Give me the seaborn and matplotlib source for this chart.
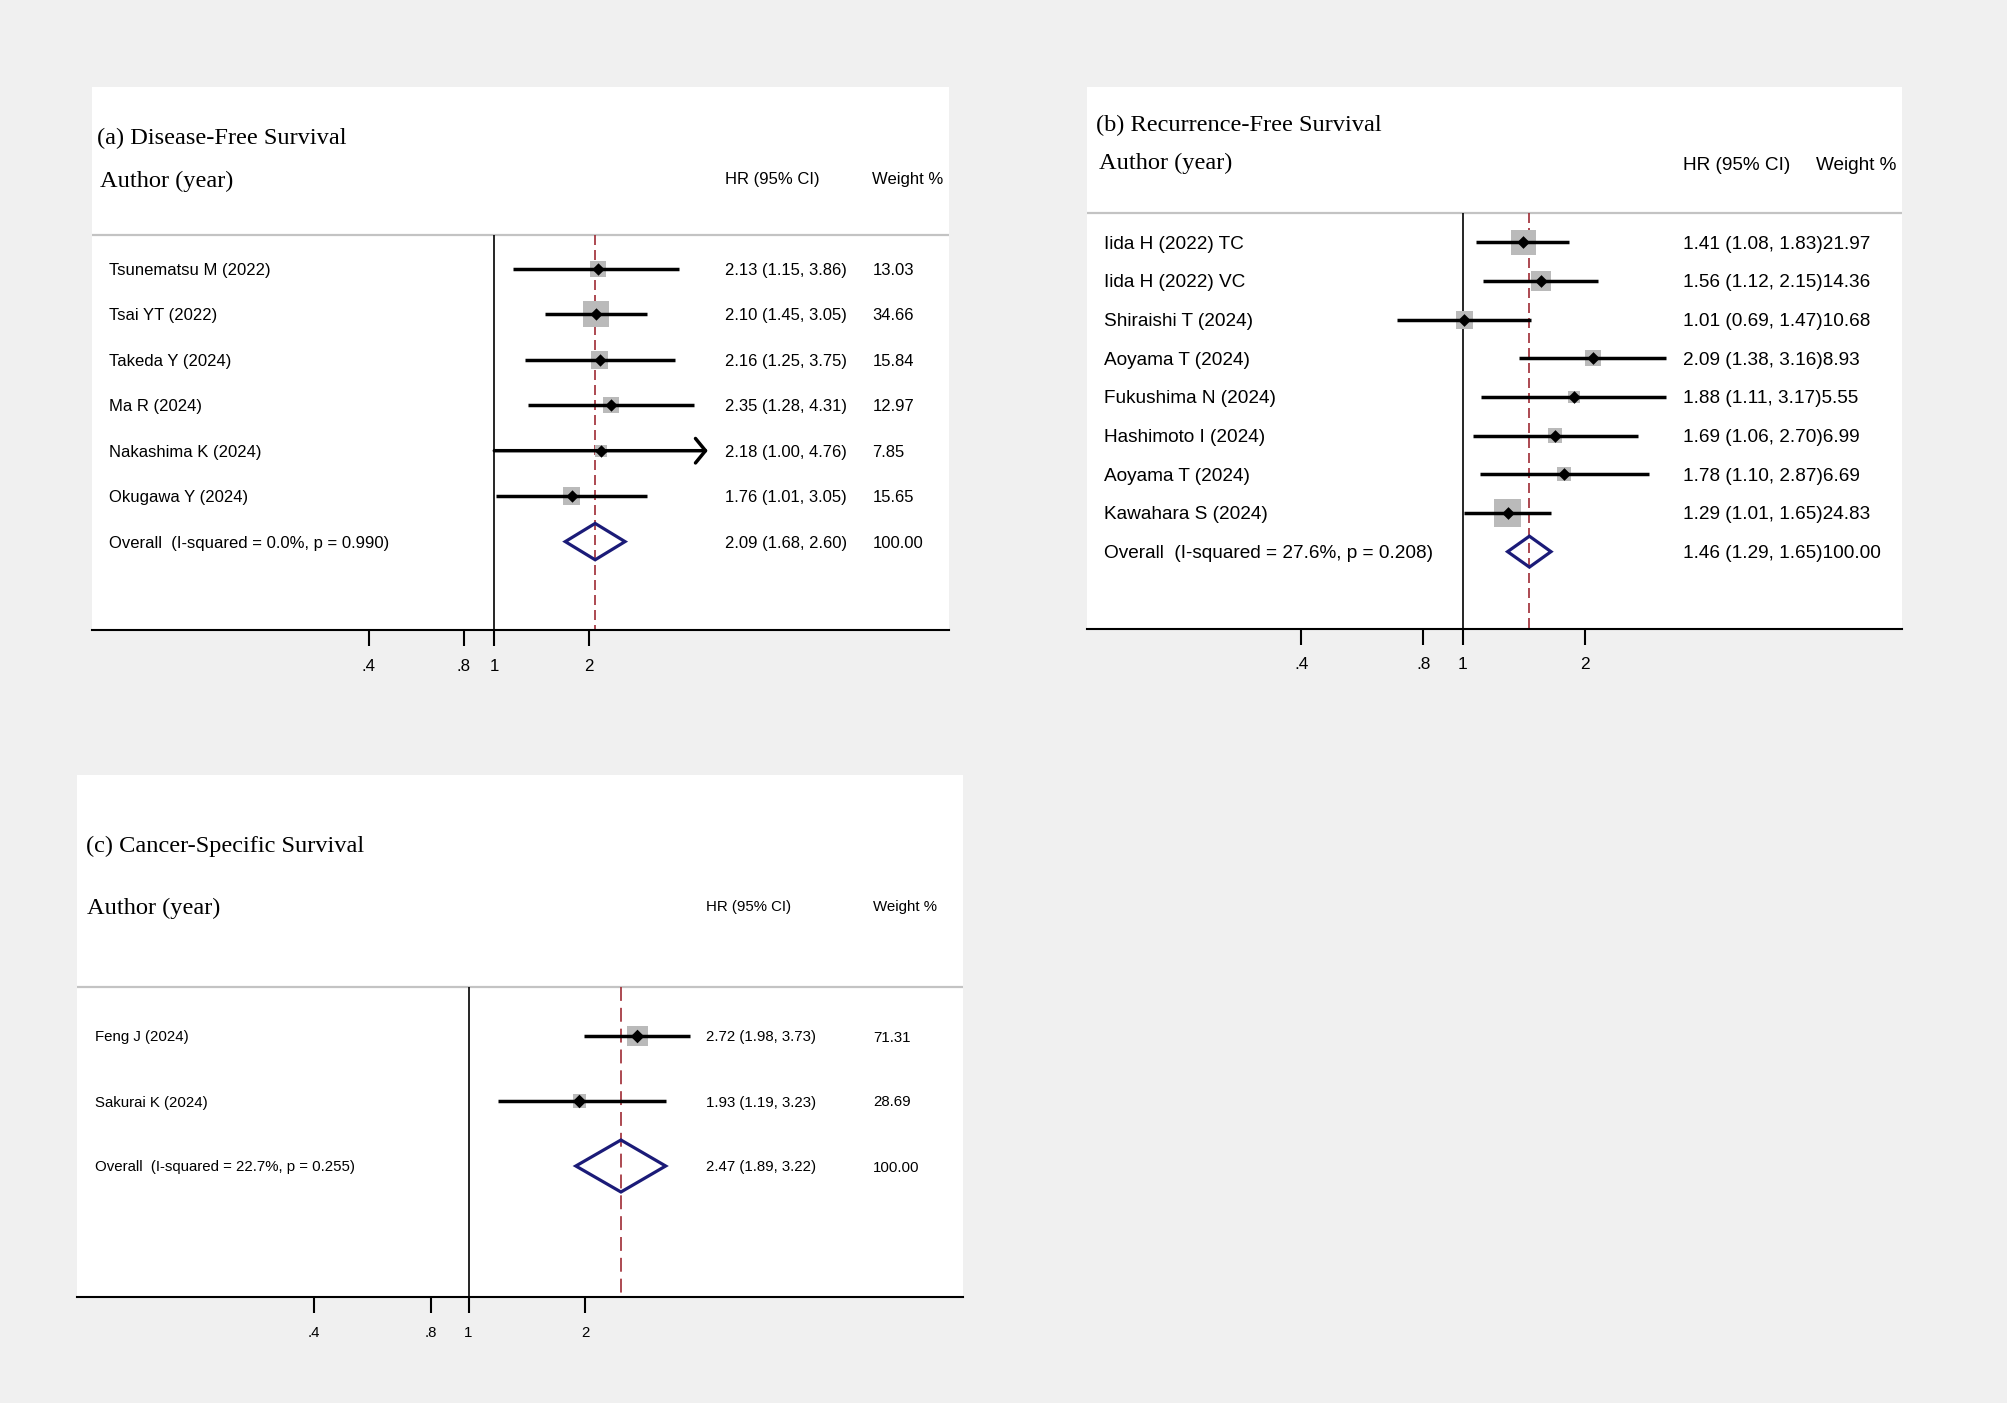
import numpy as np
import matplotlib
matplotlib.use("Agg")
import matplotlib.pyplot as plt
import matplotlib.transforms as mtransforms
from matplotlib.ticker import NullLocator, FixedLocator, FixedFormatter
import seaborn as sns

# ---------------- data ----------------
# (a) Disease-Free Survival
a_studies = ["Tsunematsu M (2022)", "Tsai YT (2022)", "Takeda Y (2024)",
             "Ma R (2024)", "Nakashima K (2024)", "Okugawa Y (2024)"]
a_hr = [2.13, 2.10, 2.16, 2.35, 2.18, 1.76]
a_lo = [1.15, 1.45, 1.25, 1.28, 1.00, 1.01]
a_hi = [3.86, 3.05, 3.75, 4.31, 4.76, 3.05]
a_wt = [13.03, 34.66, 15.84, 12.97, 7.85, 15.65]
a_arrow = [False, False, False, False, True, False]
a_overall = [2.09, 1.68, 2.60]
a_i2, a_p = "0.0", "0.990"

# (b) Recurrence-Free Survival
b_studies = ["Iida H (2022) TC", "Iida H (2022) VC", "Shiraishi T (2024)",
             "Aoyama T (2024)", "Fukushima N (2024)", "Hashimoto I (2024)",
             "Aoyama T (2024)", "Kawahara S (2024)"]
b_hr = [1.41, 1.56, 1.01, 2.09, 1.88, 1.69, 1.78, 1.29]
b_lo = [1.08, 1.12, 0.69, 1.38, 1.11, 1.06, 1.10, 1.01]
b_hi = [1.83, 2.15, 1.47, 3.16, 3.17, 2.70, 2.87, 1.65]
b_wt = [21.97, 14.36, 10.68, 8.93, 5.55, 6.99, 6.69, 24.83]
b_arrow = [False] * 8
b_overall = [1.46, 1.29, 1.65]
b_i2, b_p = "27.6", "0.208"

# (c) Cancer-Specific Survival
c_studies = ["Feng J (2024)", "Sakurai K (2024)"]
c_hr = [2.72, 1.93]
c_lo = [1.98, 1.19]
c_hi = [3.73, 3.23]
c_wt = [71.31, 28.69]
c_arrow = [False, False]
c_overall = [2.47, 1.89, 3.22]
c_i2, c_p = "22.7", "0.255"

titles = ["(a) Disease-Free Survival", "(b) Recurrence-Free Survival",
          "(c) Cancer-Specific Survival"]
tick_vals = [0.4, 0.8, 1, 2]
tick_labels = [".4", ".8", "1", "2"]

# ---------------- style ----------------
W, H = 2008, 1403
BG = "#f0f0f0"
SQ = "#bababa"
NAVY = "#1b1b78"
RED = "#9e2a33"
SEP = "#c3c3c3"

sns.set_theme(style="white")
plt.rcParams["font.family"] = ["Liberation Sans", "DejaVu Sans"]
SERIF = ["Liberation Serif", "DejaVu Serif"]

layouts = [
    dict(box=(92.2, 87.1, 949.3, 630.1), refx=494.3, ppl=136.8, row0=268.9, step=45.45,
         sep=234.8, title=(97.3, 138.2), author=(99.9, 181.8), hdr_y=179.3,
         hr_x=725.0, wt_x=872.3, wt_hdr_x=872.3, label_x=108.9, fs=12.0, tick_fs=12.2,
         k=4.42, dsize=40, concat=False, dash=(7.2, 3.6)),
    dict(box=(1087.2, 87.1, 1901.7, 629.0), refx=1462.7, ppl=176.3, row0=242.3, step=38.67,
         sep=212.7, title=(1096.2, 125.4), author=(1098.8, 163.9), hdr_y=166.0,
         hr_x=1683.3, wt_x=None, wt_hdr_x=1815.7, label_x=1103.9, fs=13.7, tick_fs=12.4,
         k=5.45, dsize=42, concat=True, dash=(7.2, 3.6)),
    dict(box=(77.5, 775.0, 963.3, 1297.3), refx=468.5, ppl=168.6, row0=1036.0, step=65.0,
         sep=986.7, title=(86.0, 846.5), author=(87.3, 908.7), hdr_y=906.7,
         hr_x=706.0, wt_x=873.3, wt_hdr_x=873.3, label_x=95.0, fs=10.8, tick_fs=10.8,
         k=2.45, dsize=48, concat=False, dash=(10.0, 5.0)),
]

fig = plt.figure(figsize=(W / 100, H / 100), dpi=100, facecolor=BG)


def draw_panel(L, title, studies, hr, lo, hi, wt, arrows, overall, i2, pval):
    x0, y0, x1, y1 = L["box"]
    ax = fig.add_axes([x0 / W, 1 - y1 / H, (x1 - x0) / W, (y1 - y0) / H])
    ax.set_facecolor("white")
    ax.set_xscale("log")
    xlim = (np.exp((x0 - L["refx"]) / L["ppl"]), np.exp((x1 - L["refx"]) / L["ppl"]))
    ybot = (y1 - L["row0"]) / L["step"]
    ytop = (y0 - L["row0"]) / L["step"]
    sep_r = (L["sep"] - L["row0"]) / L["step"]

    n = len(studies)
    rows = list(range(n))
    orow = n

    # separator and reference lines
    ax.axhline(sep_r, color=SEP, lw=1.6, zorder=1)
    ax.plot([1, 1], [sep_r, ybot], color="black", lw=1.2, zorder=1, solid_capstyle="butt")
    lw_r = 1.2
    ax.plot([overall[0], overall[0]], [sep_r, ybot], color=RED, lw=lw_r, zorder=1,
            dashes=(L["dash"][0] / lw_r, L["dash"][1] / lw_r))

    # weighted squares
    coef = (0.72 * L["k"]) ** 2
    wmax = max(wt)
    sns.scatterplot(x=hr, y=rows, size=wt, sizes=(0, coef * wmax), size_norm=(0, wmax),
                    marker="s", color=SQ, linewidth=0, legend=False, ax=ax, zorder=2)

    # confidence intervals
    for r, l, h, arr in zip(rows, lo, hi, arrows):
        if arr:
            ax.annotate("", xy=(h, r), xytext=(l, r),
                        arrowprops=dict(arrowstyle="->,head_length=0.45,head_width=0.55",
                                        lw=2.5, color="black", shrinkA=0, shrinkB=0,
                                        mutation_scale=16),
                        zorder=3)
        else:
            ax.plot([l, h], [r, r], color="black", lw=2.5, zorder=3, solid_capstyle="butt")

    # point estimates
    sns.scatterplot(x=hr, y=rows, marker="D", color="black", s=L["dsize"], linewidth=0,
                    legend=False, ax=ax, zorder=4)

    # overall diamond
    est, olo, ohi = overall
    ax.fill([olo, est, ohi, est, olo], [orow, orow - 0.4, orow, orow + 0.4, orow],
            fill=False, edgecolor=NAVY, lw=2.3, joinstyle="miter", zorder=4)

    ax.set_xlim(*xlim)
    ax.set_ylim(ybot, ytop)
    ax.set_xlabel("")
    ax.set_ylabel("")

    # axes styling
    for s in ["top", "left", "right"]:
        ax.spines[s].set_visible(False)
    ax.spines["bottom"].set_color("black")
    ax.spines["bottom"].set_linewidth(1.5)
    ax.xaxis.set_major_locator(FixedLocator(tick_vals))
    ax.xaxis.set_major_formatter(FixedFormatter(tick_labels))
    ax.xaxis.set_minor_locator(NullLocator())
    ax.set_yticks([])
    ax.tick_params(axis="x", which="major", bottom=True, direction="out", length=11.5,
                   width=1.5, pad=9, labelsize=L["tick_fs"], colors="black")

    # texts
    tr = mtransforms.blended_transform_factory(ax.transAxes, ax.transData)

    def xf(px):
        return (px - x0) / (x1 - x0)

    va = "center_baseline"
    for r, name in zip(rows, studies):
        ax.text(xf(L["label_x"]), r, name, transform=tr, ha="left", va=va,
                fontsize=L["fs"], color="black")
    ax.text(xf(L["label_x"]), orow, f"Overall  (I-squared = {i2}%, p = {pval})",
            transform=tr, ha="left", va=va, fontsize=L["fs"], color="black")

    hr_txt = [f"{h:.2f} ({l:.2f}, {u:.2f})" for h, l, u in zip(hr, lo, hi)]
    hr_txt.append(f"{est:.2f} ({olo:.2f}, {ohi:.2f})")
    wt_txt = [f"{w:.2f}" for w in wt] + [f"{100:.2f}"]
    for r, ht, wtt in zip(rows + [orow], hr_txt, wt_txt):
        if L["concat"]:
            ax.text(xf(L["hr_x"]), r, ht + wtt, transform=tr, ha="left", va=va,
                    fontsize=L["fs"], color="black")
        else:
            ax.text(xf(L["hr_x"]), r, ht, transform=tr, ha="left", va=va,
                    fontsize=L["fs"], color="black")
            ax.text(xf(L["wt_x"]), r, wtt, transform=tr, ha="left", va=va,
                    fontsize=L["fs"], color="black")

    # headers
    fig.text(L["title"][0] / W, 1 - L["title"][1] / H, title, family=SERIF,
             fontsize=17.6, ha="left", va="center", color="black")
    fig.text(L["author"][0] / W, 1 - L["author"][1] / H, "Author (year)", family=SERIF,
             fontsize=17.6, ha="left", va="center", color="black")
    fig.text(L["hr_x"] / W, 1 - L["hdr_y"] / H, "HR (95% CI)", fontsize=L["fs"],
             ha="left", va="center", color="black")
    fig.text(L["wt_hdr_x"] / W, 1 - L["hdr_y"] / H, "Weight %", fontsize=L["fs"],
             ha="left", va="center", color="black")
    return ax


draw_panel(layouts[0], titles[0], a_studies, a_hr, a_lo, a_hi, a_wt, a_arrow, a_overall, a_i2, a_p)
draw_panel(layouts[1], titles[1], b_studies, b_hr, b_lo, b_hi, b_wt, b_arrow, b_overall, b_i2, b_p)
draw_panel(layouts[2], titles[2], c_studies, c_hr, c_lo, c_hi, c_wt, c_arrow, c_overall, c_i2, c_p)

fig.savefig("out.png", dpi=100, facecolor=BG)
